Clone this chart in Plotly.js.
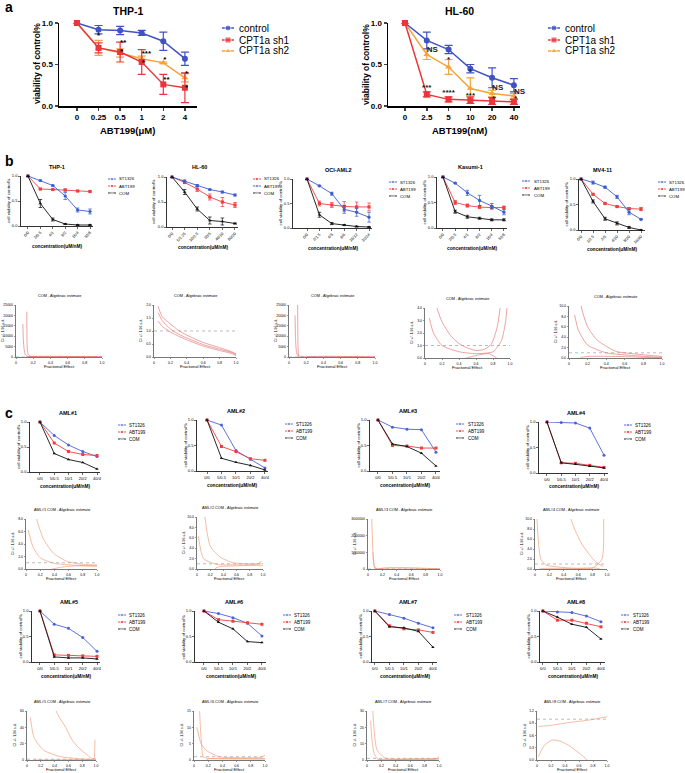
<!DOCTYPE html>
<html>
<head>
<meta charset="utf-8">
<script src="https://cdn.plot.ly/plotly-3.0.1.min.js"></script>
<style>body{margin:0;background:#fff}#fig{width:685px;height:773px}</style>
</head>
<body>
<div id="fig"></div>
<script>
// ---------- panel a ----------
var thpDoses = ['0', '0.25', '0.5', '1', '2', '4']
var thpControl = [1.0, 0.92, 0.91, 0.88, 0.78, 0.57]
var thpControlErr = [0, 0.05, 0.05, 0.03, 0.11, 0.08]
var thpSh1 = [1.0, 0.70, 0.65, 0.53, 0.26, 0.22]
var thpSh1Err = [0, 0.06, 0.12, 0.15, 0.12, 0.18]
var thpSh2 = [1.0, 0.70, 0.64, 0.57, 0.52, 0.34]
var thpSh2Err = [0, 0.09, 0.05, 0.03, 0.01, 0.05]
var thpStarX = ['0.25', '0.5', '0.5', '1', '1', '2', '2', '4', '4']
var thpStarY = [0.80, 0.76, 0.65, 0.63, 0.52, 0.55, 0.31, 0.38, 0.22]
var thpStarText = ['*', '**', '*', '***', '*', '*', '**', '*', '*']

var hlDoses = ['0', '2.5', '5', '10', '20', '40']
var hlControl = [1.0, 0.79, 0.68, 0.45, 0.34, 0.25]
var hlControlErr = [0, 0.10, 0.05, 0.05, 0.12, 0.08]
var hlSh1 = [1.0, 0.14, 0.08, 0.07, 0.06, 0.05]
var hlSh1Err = [0, 0.03, 0.03, 0.04, 0.04, 0.03]
var hlSh2 = [1.0, 0.62, 0.47, 0.21, 0.15, 0.12]
var hlSh2Err = [0, 0.06, 0.09, 0.13, 0.04, 0.03]
var hlStarX = ['2.5', '5', '10', '20', '40', '2.5', '5', '10', '20', '40']
var hlStarY = [0.68, 0.56, 0.41, 0.22, 0.17, 0.22, 0.16, 0.12, 0.08, 0.08]
var hlStarText = ['NS', '*', '*', 'NS', 'NS', '***', '****', '***', '*', '*']

// ---------- panel b ----------
var bThpCats = ['0/0', '2/0.5', '4/1', '8/2', '16/4', '32/8']
var bThpSt = [1.0, 0.91, 0.81, 0.60, 0.32, 0.29]
var bThpStErr = [0, 0.01, 0.01, 0.07, 0.04, 0.05]
var bThpAbt = [1.0, 0.74, 0.73, 0.72, 0.70, 0.69]
var bThpAbtErr = [0, 0.01, 0.01, 0.02, 0.01, 0.01]
var bThpCom = [1.0, 0.45, 0.13, 0.04, 0.02, 0.02]
var bThpComErr = [0, 0.08, 0.03, 0.01, 0.01, 0.01]

var bHlCats = ['0/0', '5/1.25', '10/2.5', '20/5', '40/10', '80/20']
var bHlSt = [1.0, 0.89, 0.76, 0.60, 0.50, 0.44]
var bHlStErr = [0, 0.02, 0.05, 0.06, 0.09, 0.05]
var bHlAbt = [1.0, 0.92, 0.83, 0.75, 0.70, 0.64]
var bHlAbtErr = [0, 0.02, 0.02, 0.01, 0.02, 0.02]
var bHlCom = [1.0, 0.70, 0.36, 0.13, 0.11, 0.07]
var bHlComErr = [0, 0.05, 0.04, 0.07, 0.07, 0.01]

var bOciCats = ['0/0', '2/1.5', '4/3', '8/6', '16/12', '32/24']
var bOciSt = [1.0, 0.86, 0.70, 0.38, 0.32, 0.22]
var bOciStErr = [0, 0.01, 0.03, 0.08, 0.08, 0.10]
var bOciAbt = [1.0, 0.50, 0.47, 0.44, 0.43, 0.43]
var bOciAbtErr = [0, 0.05, 0.05, 0.10, 0.10, 0.08]
var bOciCom = [1.0, 0.27, 0.09, 0.06, 0.03, 0.02]
var bOciComErr = [0, 0.05, 0.02, 0.01, 0.01, 0.01]

var bKasCats = ['0/0', '2/0.5', '4/1', '8/2', '16/4', '32/8']
var bKasSt = [1.0, 0.88, 0.69, 0.54, 0.43, 0.31]
var bKasStErr = [0, 0.01, 0.05, 0.10, 0.05, 0.05]
var bKasAbt = [1.0, 0.50, 0.44, 0.41, 0.40, 0.40]
var bKasAbtErr = [0, 0.04, 0.03, 0.03, 0.03, 0.03]
var bKasCom = [1.0, 0.32, 0.22, 0.19, 0.16, 0.16]
var bKasComErr = [0, 0.03, 0.03, 0.02, 0.02, 0.02]

var bMvCats = ['0/0', '1/2.5', '2/5', '4/10', '8/20', '16/40']
var bMvSt = [1.0, 0.93, 0.84, 0.65, 0.35, 0.21]
var bMvStErr = [0, 0.03, 0.02, 0.03, 0.05, 0.01]
var bMvAbt = [1.0, 0.70, 0.52, 0.46, 0.42, 0.41]
var bMvAbtErr = [0, 0.01, 0.01, 0.01, 0.02, 0.03]
var bMvCom = [1.0, 0.56, 0.22, 0.13, 0.05, 0.0]
var bMvComErr = [0, 0.03, 0.03, 0.03, 0.02, 0]

// CI curves: [fractional effect, CI]
var ciThpHi = [[0.125, 21800], [0.127, 12000], [0.13, 5000], [0.14, 1500], [0.17, 300], [0.3, 50], [1.0, 10]]
var ciThpMid = [[0.08, 15800], [0.085, 9000], [0.095, 3500], [0.11, 1000], [0.15, 200], [0.3, 30], [1.0, 5]]
var ciThpLo = [[0.09, -800], [0.12, 0], [1.0, 0]]
var ciHlHi = [[0.05, 1.95], [0.1, 1.55], [0.2, 1.27], [0.3, 1.02], [0.4, 0.84], [0.6, 0.56], [0.8, 0.36], [0.95, 0.2], [1.0, 0.12]]
var ciHlMid = [[0.05, 1.7], [0.1, 1.4], [0.2, 1.08], [0.3, 0.88], [0.4, 0.73], [0.6, 0.48], [0.8, 0.3], [0.95, 0.17], [1.0, 0.09]]
var ciHlLo = [[0.05, 1.38], [0.1, 1.18], [0.2, 0.96], [0.3, 0.8], [0.4, 0.66], [0.6, 0.42], [0.8, 0.25], [0.95, 0.13], [1.0, 0.05]]
var ciOciHi = [[0.1, 27000], [0.102, 15000], [0.105, 5000], [0.11, 0], [0.115, -3000]]
var ciOciMid = [[0.07, 20000], [0.075, 10000], [0.085, 3000], [0.1, 800], [0.15, 200], [0.3, 30], [1.0, 5]]
var ciOciLo = [[0.12, -1500], [0.2, 0], [1.0, 0]]
var ciKasHi = [[0.1, 4.9], [0.15, 3.8], [0.2, 2.9], [0.3, 1.8], [0.4, 1.16], [0.5, 0.8], [0.6, 0.6], [0.7, 0.7], [0.78, 1.1], [0.85, 2.5], [0.9, 4.9]]
var ciKasMid = [[0.05, 3.2], [0.1, 2.0], [0.2, 1.0], [0.4, 0.5], [0.6, 0.35], [0.8, 0.5], [0.9, 1.4], [0.95, 3.0], [0.97, 4.5]]
var ciKasLo = [[0.2, -1.0], [0.3, -0.5], [0.4, -0.2], [0.6, 0.2], [0.75, 0.35], [0.85, -0.05], [0.95, -1.0]]
var ciMvHi = [[0.1, 12.4], [0.15, 8.6], [0.2, 6.0], [0.3, 3.5], [0.5, 1.3], [0.7, 0.8], [1.0, 0.3]]
var ciMvMid = [[0.06, 8.3], [0.1, 5.4], [0.2, 2.5], [0.4, 1.0], [0.7, 0.45], [1.0, 0.1]]
var ciMvLo = [[0.08, -2.5], [0.12, 0], [0.2, 0.3], [0.5, 0.3], [1.0, 0]]

// ---------- panel c ----------
var cCats = ['0/0', '5/0.5', '10/1', '20/2', '40/4']
var aml1St = [1.0, 0.73, 0.54, 0.41, 0.31], aml1Abt = [1.0, 0.58, 0.41, 0.35, 0.33], aml1Com = [1.0, 0.37, 0.25, 0.19, 0.06]
var aml2St = [1.0, 0.90, 0.40, 0.23, 0.06], aml2Abt = [1.0, 0.48, 0.38, 0.24, 0.21], aml2Com = [1.0, 0.25, 0.17, 0.11, 0.02]
var aml3St = [1.0, 0.86, 0.82, 0.81, 0.37], aml3Abt = [1.0, 0.50, 0.49, 0.45, 0.45], aml3Com = [1.0, 0.53, 0.48, 0.35, 0.10]
var aml4St = [1.0, 0.99, 0.98, 0.88, 0.35], aml4Abt = [1.0, 0.20, 0.19, 0.15, 0.11], aml4Com = [1.0, 0.20, 0.17, 0.13, 0.10]
var aml5St = [1.0, 0.74, 0.66, 0.48, 0.21], aml5Abt = [1.0, 0.14, 0.13, 0.12, 0.11], aml5Com = [1.0, 0.10, 0.08, 0.08, 0.06]
var aml6St = [1.0, 0.95, 0.87, 0.76, 0.51], aml6Abt = [1.0, 0.83, 0.80, 0.77, 0.74], aml6Com = [1.0, 0.78, 0.65, 0.40, 0.38]
var aml7St = [1.0, 0.93, 0.86, 0.76, 0.67], aml7Abt = [1.0, 0.71, 0.65, 0.63, 0.58], aml7Com = [1.0, 0.69, 0.67, 0.60, 0.29]
var aml8St = [1.0, 0.98, 0.97, 0.90, 0.79], aml8Abt = [1.0, 0.82, 0.82, 0.76, 0.69], aml8Com = [1.0, 0.88, 0.74, 0.68, 0.45]

var ciA1Hi = [[0.1, 12], [0.15, 8], [0.25, 4.7], [0.39, 2.5], [0.58, 1.2], [0.81, 0.75], [1.0, 0.65]]
var ciA1Mid = [[0.03, 6.3], [0.1, 3.5], [0.2, 1.8], [0.4, 0.9], [0.7, 0.6], [1.0, 0.5]]
var ciA1Lo = [[0.2, -1.8], [0.3, -0.3], [0.5, 0.3], [0.7, 0.5], [1.0, 0.45]]
var ciA2Hi = [[0.1, 12], [0.2, 4.4], [0.35, 2.3], [0.55, 1.2], [0.85, 1.0], [1.0, 1.0]]
var ciA2Mid = [[0.02, 6.3], [0.1, 2.0], [0.3, 0.9], [0.6, 0.8], [0.9, 0.9], [0.98, 1.5]]
var ciA2Lo = [[0.15, -1.8], [0.3, 0.3], [0.6, 0.6], [0.9, 0.7], [1.0, 0.6]]
var ciA3Hi = [[0.05, 3.2e6], [0.06, 2.0e6], [0.07, 8e5], [0.09, 1e5], [0.15, 1e4], [1.0, 100]]
var ciA3Mid = [[0.07, 1e6], [0.08, 4e5], [0.1, 5e4], [0.2, 5e3], [1.0, 50]]
var ciA3Lo = [[0.1, -5e5], [0.15, 0], [1.0, 0]]
var ciA4Hi = [[0.45, 12], [0.55, 8], [0.65, 5], [0.75, 3], [0.85, 1.3], [0.95, 0.5]]
var ciA4Mid = [[0.02, 12], [0.05, 5], [0.08, 2], [0.15, 0.8], [0.4, 0.3], [0.8, 0.2], [0.93, 2], [0.95, 12]]
var ciA4Lo = [[0.04, -2], [0.06, 0], [0.1, 0.1], [0.5, 0.1], [0.9, 0], [0.95, -2]]
var ciA5Hi = [[0.37, 70], [0.45, 55], [0.56, 40], [0.65, 25], [0.75, 15], [0.94, 2], [1.0, 1]]
var ciA5Mid = [[0.05, 52], [0.1, 28], [0.24, 12], [0.49, 4], [0.87, 1], [0.97, 1], [0.98, 10], [0.985, 25]]
var ciA5Lo = [[0.1, 0], [0.5, 0.3], [0.9, 0.5], [0.97, 0], [0.98, -5]]
var ciA6Hi = [[0.07, 20], [0.09, 10], [0.11, 4], [0.13, 1], [0.2, 0.5], [1.0, 0.4]]
var ciA6Mid = [[0.04, 10], [0.1, 5], [0.17, 3], [0.35, 1], [0.7, 0.7], [0.95, 0.8], [1.0, 1.5]]
var ciA6Lo = [[0.1, -2], [0.2, 0.3], [0.5, 0.4], [1.0, 0.3]]
var ciA7Hi = [[0.08, 30], [0.1, 18], [0.14, 6], [0.26, 1], [0.6, 0.8], [1.0, 0.9]]
var ciA7Mid = [[0.05, 24], [0.07, 12], [0.1, 4], [0.15, 0.5], [0.5, 0.3], [0.95, 0.5], [1.0, 2]]
var ciA7Lo = [[0.08, -4], [0.15, 0], [0.5, 0.2], [1.0, 0.1]]
var ciA8Hi = [[0.06, 1.53], [0.12, 1.35], [0.22, 1.27], [0.3, 1.32], [0.34, 1.4], [0.4, 1.6]]
var ciA8Mid = [[0.02, 0.82], [0.2, 0.85], [0.47, 0.92], [0.75, 0.98], [1.0, 1.06]]
var ciA8Lo = [[0.02, 0.08], [0.1, 0.35], [0.22, 0.49], [0.35, 0.45], [0.47, 0.34], [0.6, 0.17], [0.72, 0], [0.84, -0.25]]

// ---------- drawing ----------
var W = 685, H = 773
var FONT = 'Liberation Sans, Arial, sans-serif'
var BLUE_A = '#4152c4', RED_A = '#e8363c', ORANGE_A = '#f5a33c'
var BLUE = '#3b5bd0', RED = '#ee3f3f', BLACK = '#111111'
var CI_B = 'rgba(228,110,110,0.8)', CI_C = 'rgba(240,150,110,0.8)'

var traces = [], annotations = [], shapes = []
var layout = {
	width: W, height: H,
	margin: {l: 0, r: 0, t: 0, b: 0},
	showlegend: false,
	paper_bgcolor: '#fff',
	plot_bgcolor: 'rgba(0,0,0,0)',
	font: {family: FONT, color: '#000'},
	annotations: annotations,
	shapes: shapes
}
var nAx = 0

function addAxes(l, r, t, b, xo, yo) {
	nAx++
	var id = nAx === 1 ? '' : String(nAx)
	var base = {showgrid: false, zeroline: false, showline: true, linecolor: '#000', ticks: 'outside', fixedrange: true}
	layout['xaxis' + id] = Object.assign({}, base, {domain: [l / W, r / W], anchor: 'y' + id}, xo)
	layout['yaxis' + id] = Object.assign({}, base, {domain: [1 - b / H, 1 - t / H], anchor: 'x' + id}, yo)
	return {x: 'x' + id, y: 'y' + id}
}

function txt(s, x, y, size, o) {
	annotations.push(Object.assign({
		text: s, x: x / W, y: 1 - y / H, xref: 'paper', yref: 'paper',
		showarrow: false, xanchor: 'center', yanchor: 'middle',
		font: {size: size, family: FONT, color: '#000'}
	}, o || {}))
}

function lineChart(c) {
	var ax = addAxes(c.l, c.r, c.t, c.b,
		{type: 'category', range: c.xr, tickangle: c.angle || 0, tickfont: {size: c.fs, weight: c.bold ? 'bold' : 'normal'},
		 linewidth: c.lw, tickwidth: c.lw, ticklen: c.tl},
		{range: [0, 1], tickvals: [0, 0.5, 1], ticktext: ['0.0', '0.5', '1.0'], tickfont: {size: c.fs, weight: c.bold ? 'bold' : 'normal'},
		 linewidth: c.lw, tickwidth: c.lw, ticklen: c.tl})
	c.series.forEach(function (s) {
		var tr = {
			x: c.cats, y: s.y, xaxis: ax.x, yaxis: ax.y, type: 'scatter', mode: 'lines+markers', cliponaxis: false,
			line: {color: s.color, width: c.lineW}, marker: {color: s.color, size: c.ms, symbol: s.symbol}
		}
		if (s.err) tr.error_y = {type: 'data', array: s.err, color: s.color, thickness: c.lineW * 0.8, width: c.ew}
		traces.push(tr)
	})
	return ax
}

function stars(ax, xs, ys, labels, pos, color) {
	traces.push({x: xs, y: ys, text: labels, xaxis: ax.x, yaxis: ax.y, mode: 'text', cliponaxis: false,
		textposition: pos, textfont: {size: 8, family: FONT, color: color, weight: 'bold'}})
}

function ciChart(c) {
	var ax = addAxes(c.l, c.r, c.t, c.b,
		{range: [0, 1], tickvals: [0, 0.2, 0.4, 0.6, 0.8, 1], ticktext: ['0', '0.2', '0.4', '0.6', '0.8', '1.0'],
		 tickfont: {size: 3.5}, linewidth: 0.8, linecolor: '#555', tickwidth: 0.6, ticklen: 1.5, tickcolor: '#555'},
		{range: [0, c.top], dtick: c.dtick, tickformat: c.fmt, tickfont: {size: 3.5},
		 linewidth: 0.8, linecolor: '#555', tickwidth: 0.6, ticklen: 1.5, tickcolor: '#555'})
	shapes.push({type: 'line', xref: ax.x, yref: ax.y, x0: 0, x1: 1, y0: 1, y1: 1, layer: 'below',
		line: {color: '#aaa', width: 0.8, dash: 'dot'}})
	c.curves.forEach(function (pts) {
		traces.push({x: pts.map(function (p) { return p[0] }), y: pts.map(function (p) { return p[1] }),
			xaxis: ax.x, yaxis: ax.y, mode: 'lines', line: {color: c.color, width: 0.8, shape: 'spline', smoothing: 0.6}})
	})
	txt(c.title, (c.l + c.r) / 2, c.t - 9, 3.8)
	txt('Fractional Effect', (c.l + c.r) / 2, c.b + 9, 4.2)
	txt('CI +/- 1.96 s.d.', c.l - 13, (c.t + c.b) / 2, 3.5, {textangle: -90})
	return ax
}

// panel a
var aStyle = {fs: 8, bold: true, lw: 1.5, tl: 3, lineW: 1.5, ms: 6, ew: 4}
var a1 = lineChart(Object.assign({l: 59, r: 197, t: 23, b: 106, xr: [-0.83, 5.56], cats: thpDoses, series: [
	{y: thpControl, err: thpControlErr, color: BLUE_A, symbol: 'circle'},
	{y: thpSh2, err: thpSh2Err, color: ORANGE_A, symbol: 'triangle-up'},
	{y: thpSh1, err: thpSh1Err, color: RED_A, symbol: 'square'}]}, aStyle))
stars(a1, thpStarX, thpStarY, thpStarText, ['top center', 'middle right', 'middle right', 'middle right', 'middle right', 'middle right', 'middle right', 'middle right', 'middle right'], '#000')
var a2 = lineChart(Object.assign({l: 388, r: 520, t: 23, b: 106, xr: [-0.78, 5.28], cats: hlDoses, series: [
	{y: hlControl, err: hlControlErr, color: BLUE_A, symbol: 'circle'},
	{y: hlSh2, err: hlSh2Err, color: ORANGE_A, symbol: 'triangle-up'},
	{y: hlSh1, err: hlSh1Err, color: RED_A, symbol: 'square'}]}, aStyle))
stars(a2, hlStarX, hlStarY, hlStarText, ['middle right', 'middle center', 'middle center', 'middle right', 'middle right', 'middle center', 'middle center', 'middle center', 'middle right', 'middle right'], '#222')
txt('<b>a</b>', 9, 7, 14)
txt('<b>THP-1</b>', 128, 11, 10.5)
txt('<b>HL-60</b>', 460, 11, 10.5)
txt('<b>ABT199(μM)</b>', 128, 130, 9.5)
txt('<b>ABT199(nM)</b>', 460, 130, 9.5)
txt('<b>viability of control%</b>', 37, 64, 8.5, {textangle: -90})
txt('<b>viability of control%</b>', 366, 64, 8.5, {textangle: -90})

// panel b
var bStyle = {fs: 4, lw: 0.8, tl: 2, lineW: 0.9, ms: 3.2, ew: 1.8, angle: -45}
var bCharts = [
	{name: 'THP-1', l: 21, r: 93, t: 176, b: 226, xr: [-0.56, 5.24], cats: bThpCats, series: [
		{y: bThpAbt, err: bThpAbtErr, color: RED, symbol: 'square'},
		{y: bThpSt, err: bThpStErr, color: BLUE, symbol: 'circle'},
		{y: bThpCom, err: bThpComErr, color: BLACK, symbol: 'triangle-up'}], tx: 57, ty: 167},
	{name: 'HL-60', l: 167, r: 238, t: 177, b: 227, xr: [-0.4, 5.24], cats: bHlCats, series: [
		{y: bHlSt, err: bHlStErr, color: RED, symbol: 'square'},
		{y: bHlAbt, err: bHlAbtErr, color: BLUE, symbol: 'circle'},
		{y: bHlCom, err: bHlComErr, color: BLACK, symbol: 'triangle-up'}], tx: 200, ty: 167},
	{name: 'OCI-AML2', l: 293, r: 372, t: 179, b: 228, xr: [-1.13, 5.24], cats: bOciCats, series: [
		{y: bOciAbt, err: bOciAbtErr, color: RED, symbol: 'square'},
		{y: bOciSt, err: bOciStErr, color: BLUE, symbol: 'circle'},
		{y: bOciCom, err: bOciComErr, color: BLACK, symbol: 'triangle-up'}], tx: 338, ty: 170},
	{name: 'Kasumi-1', l: 437, r: 507, t: 177, b: 228, xr: [-0.49, 5.25], cats: bKasCats, series: [
		{y: bKasAbt, err: bKasAbtErr, color: RED, symbol: 'square'},
		{y: bKasSt, err: bKasStErr, color: BLUE, symbol: 'circle'},
		{y: bKasCom, err: bKasComErr, color: BLACK, symbol: 'triangle-up'}], tx: 470, ty: 167},
	{name: 'MV4-11', l: 579, r: 645, t: 179, b: 230, xr: [-0.17, 5.33], cats: bMvCats, series: [
		{y: bMvAbt, err: bMvAbtErr, color: RED, symbol: 'square'},
		{y: bMvSt, err: bMvStErr, color: BLUE, symbol: 'circle'},
		{y: bMvCom, err: bMvComErr, color: BLACK, symbol: 'triangle-up'}], tx: 602, ty: 170}
]
bCharts.forEach(function (c) {
	lineChart(Object.assign(c, bStyle))
	txt('<b>' + c.name + '</b>', c.tx, c.ty, 5.5)
	txt('<b>concentration(uM/nM)</b>', (c.l + c.r) / 2, c.b + 20, 4.8)
	txt('cell viability of control%', c.l - 13, (c.t + c.b) / 2, 4.3, {textangle: -90})
})
txt('<b>b</b>', 9, 161, 14)

var bCis = [
	{l: 16, r: 102, t: 305, b: 357, top: 25000, dtick: 5000, fmt: 'd', curves: [ciThpHi, ciThpMid, ciThpLo]},
	{l: 154, r: 236, t: 305, b: 357, top: 2.0, dtick: 0.5, fmt: '.1f', curves: [ciHlHi, ciHlMid, ciHlLo]},
	{l: 289, r: 375, t: 305, b: 357, top: 25000, dtick: 5000, fmt: 'd', curves: [ciOciHi, ciOciMid, ciOciLo]},
	{l: 425, r: 510, t: 308, b: 358, top: 4.0, dtick: 1, fmt: '.1f', curves: [ciKasHi, ciKasMid, ciKasLo]},
	{l: 569, r: 662, t: 306, b: 358, top: 10, dtick: 2, fmt: '.1f', curves: [ciMvHi, ciMvMid, ciMvLo]}
]
bCis.forEach(function (c) {
	c.title = 'COM - Algebraic estimate'
	c.color = CI_B
	ciChart(c)
})

// panel c
var cStyle = {fs: 4, lw: 0.8, tl: 2, lineW: 0.9, ms: 3, angle: 0}
var cCharts = [
	{name: 'AML#1', l: 30, r: 100, t: 422, b: 472, xr: [-0.7, 4.21], st: aml1St, abt: aml1Abt, com: aml1Com},
	{name: 'AML#2', l: 197, r: 268, t: 420, b: 471, xr: [-0.69, 4.21], st: aml2St, abt: aml2Abt, com: aml2Com},
	{name: 'AML#3', l: 370, r: 440, t: 420, b: 471, xr: [-0.55, 4.28], st: aml3St, abt: aml3Abt, com: aml3Com},
	{name: 'AML#4', l: 539, r: 608, t: 422, b: 473, xr: [-0.56, 4.28], st: aml4St, abt: aml4Abt, com: aml4Com},
	{name: 'AML#5', l: 32, r: 100, t: 611, b: 662, xr: [-0.56, 4.21], st: aml5St, abt: aml5Abt, com: aml5Com},
	{name: 'AML#6', l: 195, r: 266, t: 611, b: 662, xr: [-0.62, 4.28], st: aml6St, abt: aml6Abt, com: aml6Com},
	{name: 'AML#7', l: 372, r: 437, t: 611, b: 662, xr: [-0.2, 4.28], st: aml7St, abt: aml7Abt, com: aml7Com},
	{name: 'AML#8', l: 540, r: 605, t: 611, b: 662, xr: [-0.2, 4.28], st: aml8St, abt: aml8Abt, com: aml8Com}
]
cCharts.forEach(function (c) {
	c.cats = cCats
	c.series = [
		{y: c.st, color: '#4d62d6', symbol: 'circle'},
		{y: c.abt, color: RED, symbol: 'square'},
		{y: c.com, color: BLACK, symbol: 'triangle-up'}]
	lineChart(Object.assign(c, cStyle))
	txt('<b>' + c.name + '</b>', (c.l + c.r) / 2 + 3, c.t - 9, 5.5)
	txt('<b>concentration(uM/nM)</b>', (c.l + c.r) / 2, c.b + 14, 4.8)
	txt('cell viability of control%', c.l - 12, (c.t + c.b) / 2, 4.3, {textangle: -90})
})
txt('<b>c</b>', 9, 413, 14)

var cCis = [
	{name: 'AML#1', l: 26, r: 97, t: 519, b: 569, top: 8, dtick: 2, fmt: '.1f', curves: [ciA1Hi, ciA1Mid, ciA1Lo]},
	{name: 'AML#2', l: 197, r: 263, t: 517, b: 569, top: 10, dtick: 2, fmt: '.1f', curves: [ciA2Hi, ciA2Mid, ciA2Lo]},
	{name: 'AML#3', l: 368, r: 440, t: 519, b: 569, top: 3000000, dtick: 1000000, fmt: 'd', curves: [ciA3Hi, ciA3Mid, ciA3Lo]},
	{name: 'AML#4', l: 535, r: 607, t: 519, b: 569, top: 10, dtick: 2, fmt: '.1f', curves: [ciA4Hi, ciA4Mid, ciA4Lo]},
	{name: 'AML#5', l: 27, r: 96, t: 711, b: 760, top: 60, dtick: 20, fmt: 'd', curves: [ciA5Hi, ciA5Mid, ciA5Lo]},
	{name: 'AML#6', l: 194, r: 265, t: 711, b: 760, top: 15, dtick: 5, fmt: 'd', curves: [ciA6Hi, ciA6Mid, ciA6Lo]},
	{name: 'AML#7', l: 367, r: 439, t: 711, b: 760, top: 30, dtick: 10, fmt: 'd', curves: [ciA7Hi, ciA7Mid, ciA7Lo]},
	{name: 'AML#8', l: 537, r: 607, t: 711, b: 760, top: 1.2, dtick: 0.3, fmt: '.1f', curves: [ciA8Hi, ciA8Mid, ciA8Lo]}
]
cCis.forEach(function (c) {
	c.title = c.name + ' COM - Algebraic estimate'
	c.color = CI_C
	ciChart(c)
})

// legends, drawn on a page-sized overlay axis
var page = addAxes(0, W, 0, H, {range: [0, W], visible: false}, {range: [H, 0], visible: false})
function legendBlock(items, cx, tx, ys, half, ms, lw, fs) {
	items.forEach(function (it, i) {
		traces.push({x: [cx - half, cx, cx + half], y: [ys[i], ys[i], ys[i]], xaxis: page.x, yaxis: page.y,
			mode: 'lines+markers', cliponaxis: false, line: {color: it.color, width: lw},
			marker: {color: it.color, symbol: it.symbol, size: [0, ms, 0]}})
		txt(it.name, tx, ys[i], fs, {xanchor: 'left'})
	})
}
var aItems = [
	{name: 'control', color: BLUE_A, symbol: 'circle'},
	{name: 'CPT1a sh1', color: RED_A, symbol: 'square'},
	{name: 'CPT1a sh2', color: ORANGE_A, symbol: 'triangle-up'}]
legendBlock(aItems, 228, 237, [28, 40, 51], 6, 6, 1.5, 10)
legendBlock(aItems, 554, 563, [28, 40, 51], 6, 6, 1.5, 10)

var stFirst = [
	{name: 'ST1326', color: BLUE, symbol: 'circle'},
	{name: 'ABT199', color: RED, symbol: 'square'},
	{name: 'COM', color: BLACK, symbol: 'triangle-up'}]
var stRed = [
	{name: 'ST1326', color: RED, symbol: 'square'},
	{name: 'ABT199', color: BLUE, symbol: 'circle'},
	{name: 'COM', color: BLACK, symbol: 'triangle-up'}]
legendBlock(stFirst, 112, 117, [179, 186, 193], 4, 3, 0.9, 4.3)
legendBlock(stRed, 257, 262, [179, 186, 193], 4, 3, 0.9, 4.3)
legendBlock(stFirst, 393, 398, [182, 189, 196], 4, 3, 0.9, 4.3)
legendBlock(stFirst, 526, 532, [181, 188, 195], 4, 3, 0.9, 4.3)
legendBlock(stFirst, 662, 667, [182, 189, 196], 4, 3, 0.9, 4.3)
var cItems = [
	{name: 'ST1326', color: '#4d62d6', symbol: 'circle'},
	{name: 'ABT199', color: RED, symbol: 'square'},
	{name: 'COM', color: BLACK, symbol: 'triangle-up'}]
legendBlock(cItems, 122, 127, [425, 432, 439], 4, 3, 0.9, 4.5)
legendBlock(cItems, 289, 294, [424, 431, 438], 4, 3, 0.9, 4.5)
legendBlock(cItems, 460, 466, [424, 431, 438], 4, 3, 0.9, 4.5)
legendBlock(cItems, 628, 633, [425, 432, 439], 4, 3, 0.9, 4.5)
legendBlock(cItems, 122, 127, [615, 622, 629], 4, 3, 0.9, 4.5)
legendBlock(cItems, 287, 292, [615, 622, 629], 4, 3, 0.9, 4.5)
legendBlock(cItems, 458, 464, [615, 622, 629], 4, 3, 0.9, 4.5)
legendBlock(cItems, 625, 631, [615, 622, 629], 4, 3, 0.9, 4.5)

Plotly.newPlot('fig', traces, layout, {displayModeBar: false, staticPlot: true})
</script>
</body>
</html>
